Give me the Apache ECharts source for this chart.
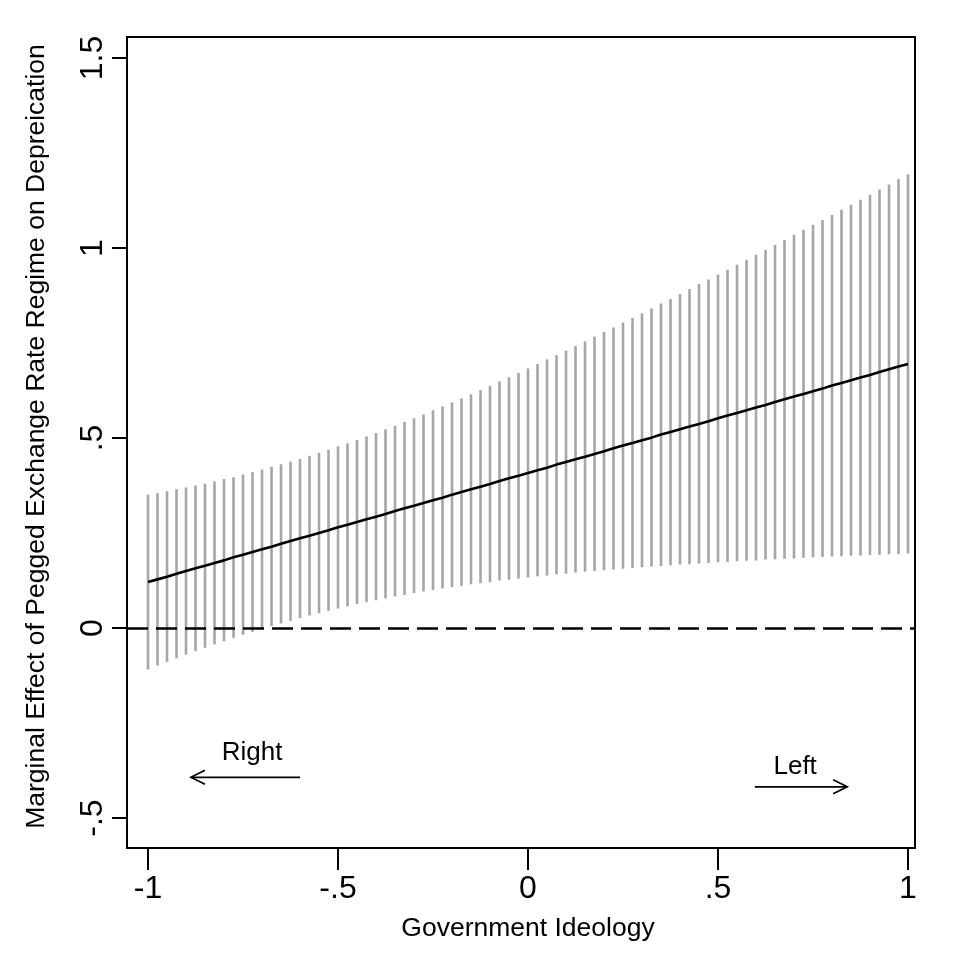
<!DOCTYPE html>
<html>
<head>
<meta charset="utf-8">
<script src="https://cdn.jsdelivr.net/npm/echarts@6/dist/echarts.min.js"></script>
<style>html,body{margin:0;padding:0;background:#fff}#c{width:963px;height:963px}</style>
</head>
<body>
<div id="c"></div>
<script>
const xVals = [-1,-0.975,-0.95,-0.925,-0.9,-0.875,-0.85,-0.825,-0.8,-0.775,
  -0.75,-0.725,-0.7,-0.675,-0.65,-0.625,-0.6,-0.575,-0.55,-0.525,
  -0.5,-0.475,-0.45,-0.425,-0.4,-0.375,-0.35,-0.325,-0.3,-0.275,
  -0.25,-0.225,-0.2,-0.175,-0.15,-0.125,-0.1,-0.075,-0.05,-0.025,
  0,0.025,0.05,0.075,0.1,0.125,0.15,0.175,0.2,0.225,
  0.25,0.275,0.3,0.325,0.35,0.375,0.4,0.425,0.45,0.475,
  0.5,0.525,0.55,0.575,0.6,0.625,0.65,0.675,0.7,0.725,
  0.75,0.775,0.8,0.825,0.85,0.875,0.9,0.925,0.95,0.975,1];
const effect = [0.121,0.128,0.135,0.143,0.150,0.157,0.164,0.171,0.178,0.186,
  0.193,0.200,0.207,0.214,0.222,0.229,0.236,0.243,0.250,0.257,
  0.265,0.272,0.279,0.286,0.293,0.300,0.308,0.315,0.322,0.329,
  0.336,0.343,0.351,0.358,0.365,0.372,0.379,0.387,0.394,0.401,
  0.408,0.415,0.422,0.430,0.437,0.444,0.451,0.458,0.465,0.473,
  0.480,0.487,0.494,0.501,0.509,0.516,0.523,0.530,0.537,0.544,
  0.552,0.559,0.566,0.573,0.580,0.587,0.595,0.602,0.609,0.616,
  0.623,0.630,0.638,0.645,0.652,0.659,0.666,0.674,0.681,0.688,0.695];
const upper = [0.351,0.355,0.360,0.365,0.370,0.375,0.380,0.386,0.392,0.397,
  0.404,0.410,0.417,0.424,0.431,0.438,0.445,0.453,0.461,0.469,
  0.478,0.486,0.495,0.504,0.513,0.523,0.532,0.542,0.552,0.562,
  0.573,0.583,0.594,0.604,0.615,0.626,0.637,0.649,0.660,0.671,
  0.683,0.695,0.707,0.718,0.730,0.742,0.754,0.767,0.779,0.791,
  0.804,0.816,0.828,0.841,0.854,0.866,0.879,0.892,0.905,0.917,
  0.930,0.943,0.956,0.969,0.982,0.995,1.008,1.021,1.035,1.048,
  1.061,1.074,1.087,1.101,1.114,1.127,1.140,1.154,1.167,1.181,1.194];
const lower = [-0.109,-0.099,-0.089,-0.080,-0.070,-0.061,-0.052,-0.043,-0.035,-0.026,
  -0.018,-0.010,-0.002,0.005,0.012,0.019,0.026,0.033,0.039,0.045,
  0.051,0.057,0.063,0.068,0.073,0.078,0.083,0.087,0.092,0.096,
  0.100,0.104,0.108,0.111,0.115,0.118,0.121,0.125,0.127,0.130,
  0.133,0.136,0.138,0.141,0.143,0.146,0.148,0.150,0.152,0.154,
  0.156,0.158,0.160,0.162,0.163,0.165,0.167,0.168,0.170,0.171,
  0.173,0.174,0.176,0.177,0.178,0.180,0.181,0.182,0.183,0.185,
  0.186,0.187,0.188,0.189,0.190,0.191,0.192,0.193,0.194,0.195,0.196];
const xTickValues = [-1,-0.5,0,0.5,1];
const xTickLabels = ['-1','-.5','0','.5','1'];
const yTickValues = [-0.5,0,0.5,1,1.5];
const yTickLabels = ['-.5','0','.5','1','1.5'];
const xTitle = 'Government Ideology';
const yTitle = 'Marginal Effect of Pegged Exchange Rate Regime on Depreication';
// annotation arrows: [tailX, tailY, tipX, tipY], text and text anchor (data units)
const arrowLines = [[-0.6,-0.393,-0.887,-0.393],[0.597,-0.418,0.84,-0.418]];
const arrowTexts = ['Right','Left'];
const arrowTextPos = [[-0.726,-0.328],[0.703,-0.366]];

const FONT = "'Liberation Sans', Arial, Helvetica, sans-serif";
const chart = echarts.init(document.getElementById('c'), null, {renderer:'canvas'});
function lab(vals, labs){ return v => { const i = vals.findIndex(t => Math.abs(t - v) < 1e-9); return i >= 0 ? labs[i] : ''; }; }

chart.setOption({
  animation:false,
  backgroundColor:'#fff',
  grid:{left:127, right:48, top:37, bottom:115, show:true, borderColor:'#000', borderWidth:2, backgroundColor:'#fff'},
  xAxis:{type:'value', min:-1.0553, max:1.0184,
    axisLine:{show:false, onZero:false}, splitLine:{show:false},
    axisTick:{show:true, customValues:xTickValues, length:22, lineStyle:{color:'#000', width:2}},
    axisLabel:{customValues:xTickValues, formatter:lab(xTickValues,xTickLabels), margin:25, fontSize:32, color:'#000', fontFamily:FONT},
    name:xTitle, nameLocation:'middle', nameGap:67, nameTextStyle:{fontSize:26.5, color:'#000', fontFamily:FONT, padding:[0,0,0,14]}},
  yAxis:{type:'value', min:-0.5789, max:1.5553,
    axisLine:{show:false, onZero:false}, splitLine:{show:false},
    axisTick:{show:true, customValues:yTickValues, length:15, lineStyle:{color:'#000', width:2}},
    axisLabel:{customValues:yTickValues, formatter:lab(yTickValues,yTickLabels), rotate:90, margin:18, fontSize:32, color:'#000', fontFamily:FONT},
    name:yTitle, nameLocation:'middle', nameGap:77, nameRotate:90, nameTextStyle:{fontSize:26.5, color:'#000', fontFamily:FONT, padding:[0,0,0,12]}},
  series:[
    {type:'custom', name:'ci', silent:true,
      data:xVals.map((x,i)=>[x, lower[i], upper[i]]),
      encode:{x:0, y:[1,2]},
      renderItem:(params, api)=>{
        const a = api.coord([api.value(0), api.value(1)]);
        const b = api.coord([api.value(0), api.value(2)]);
        return {type:'line', shape:{x1:a[0], y1:a[1], x2:b[0], y2:b[1]}, style:{stroke:'#a6a6a6', lineWidth:2.6}};
      }, z:2},
    {type:'line', name:'effect', data:xVals.map((x,i)=>[x, effect[i]]), showSymbol:false, symbol:'none',
      lineStyle:{color:'#000', width:2.6}, z:4, silent:true,
      markLine:{silent:true, symbol:'none', label:{show:false}, data:[{yAxis:0}],
        lineStyle:{color:'#000', width:2.6, type:[21,8]}}},
    {type:'custom', name:'arrows', silent:true,
      data:arrowLines.map((a,i)=>[a[0],a[1],a[2],a[3],arrowTextPos[i][0],arrowTextPos[i][1],i]),
      encode:{x:[0,2], y:[1,3]},
      renderItem:(params, api)=>{
        const t = api.coord([api.value(0), api.value(1)]);
        const h = api.coord([api.value(2), api.value(3)]);
        const tp = api.coord([api.value(4), api.value(5)]);
        const dir = Math.sign(h[0]-t[0]);
        const hl = 14, hw = 7;
        return {type:'group', children:[
          {type:'line', shape:{x1:t[0],y1:t[1],x2:h[0],y2:h[1]}, style:{stroke:'#000', lineWidth:1.7}},
          {type:'polyline', shape:{points:[[h[0]-dir*hl,h[1]-hw],[h[0],h[1]],[h[0]-dir*hl,h[1]+hw]]}, style:{stroke:'#000', lineWidth:1.7, fill:null}},
          {type:'text', x:tp[0], y:tp[1], style:{text:arrowTexts[api.value(6)], fontSize:26, fontFamily:FONT, fill:'#000', align:'center', verticalAlign:'middle'}}
        ]};
      }, z:5}
  ]
});
</script>
</body>
</html>
